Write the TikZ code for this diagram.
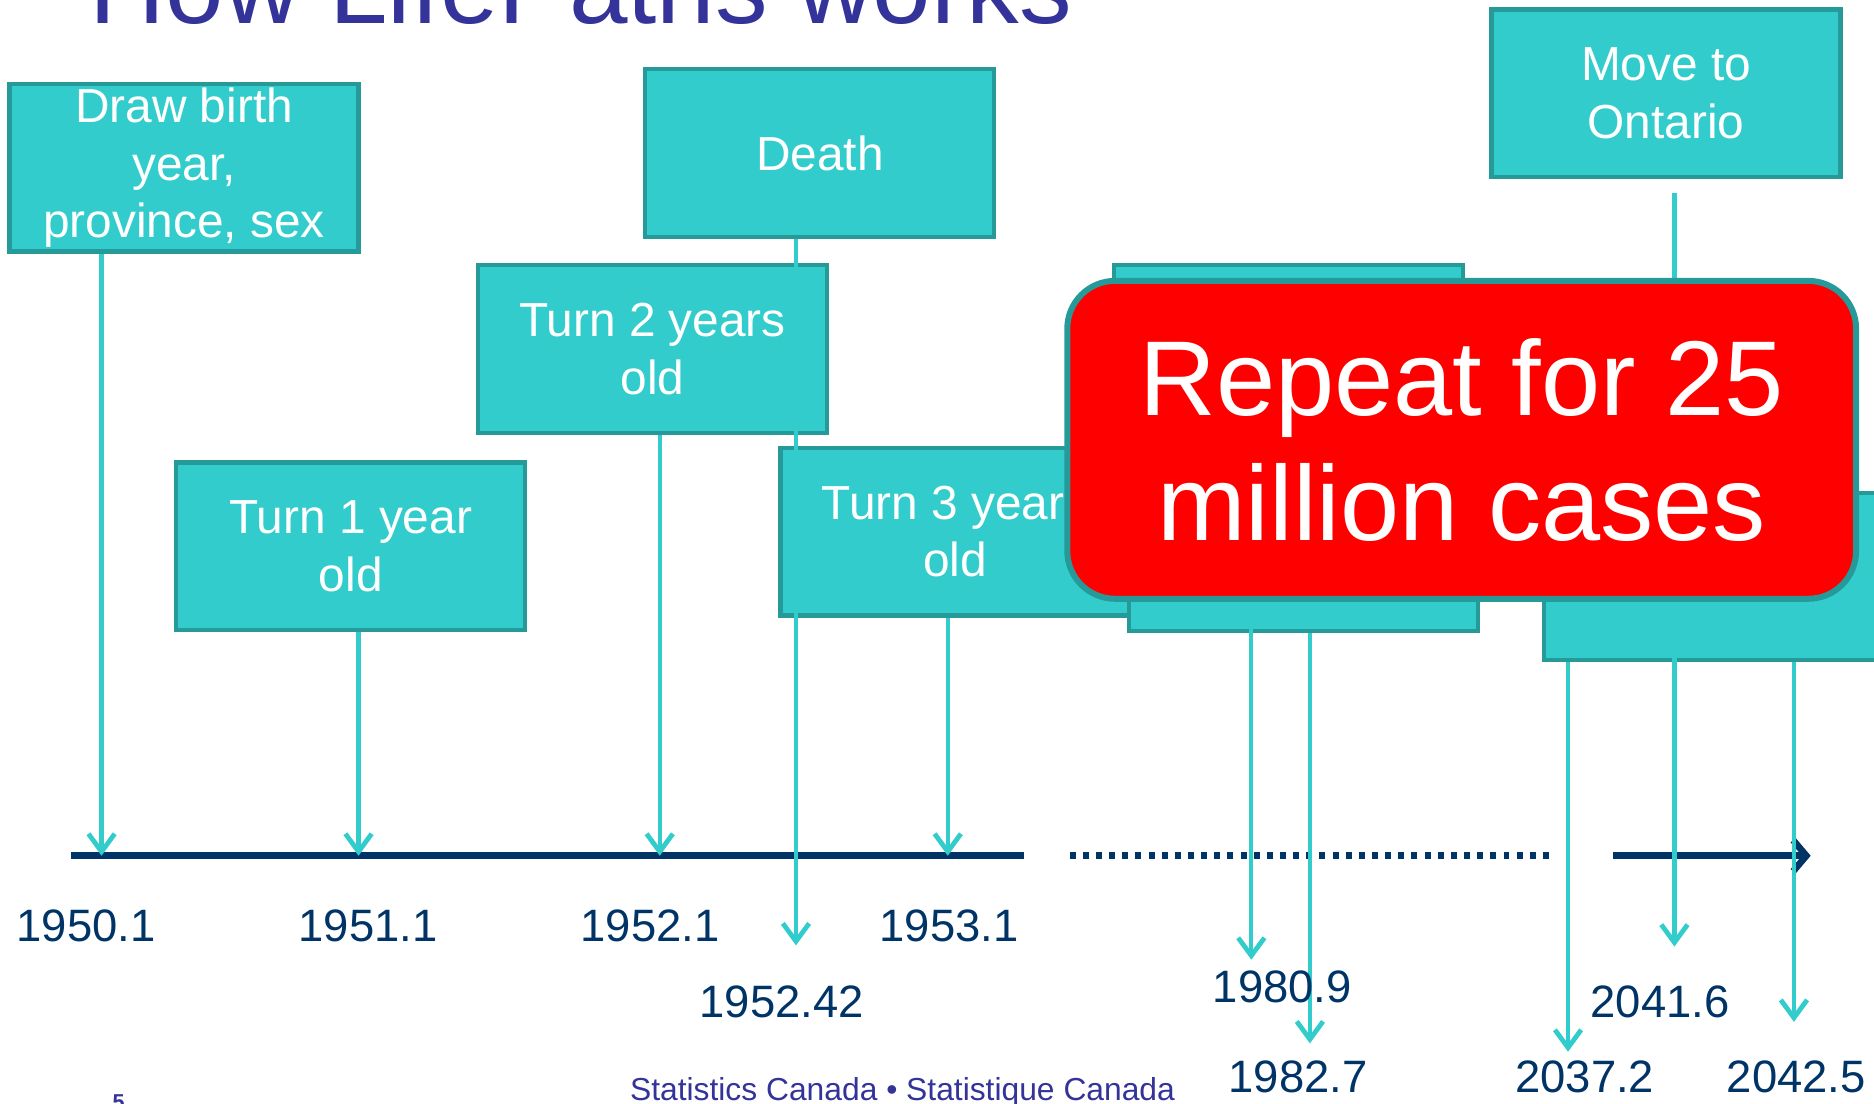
\documentclass[tikz,border=0pt]{standalone}
\usepackage{fontspec}
\setmainfont{Liberation Sans}
\usetikzlibrary{arrows.meta}
\definecolor{turq}{HTML}{33CCCC}
\definecolor{rim}{HTML}{269999}
\definecolor{navy}{HTML}{003366}
\definecolor{indigo}{HTML}{333399}

\begin{document}
\begin{tikzpicture}[x=1pt,y=-1pt,
	event/.style={rectangle, draw=rim, fill=turq, line width=3.5pt, minimum width=292pt, minimum height=140pt, inner sep=0pt, text=white, align=center, font=\fontsize{40}{48}\selectfont},
	hop/.style={color=turq, line width=3.6pt, -{Straight Barb[length=15pt,width=22pt,line width=4pt]}},
	timeline/.style={navy, line width=5.6pt},
	year/.style={text=navy, inner sep=0pt, font=\fontsize{38}{46}\selectfont}]
		\useasboundingbox (0,0) rectangle (1568,923);

		\draw (75,20) node [anchor=base west, inner sep=0pt, text=indigo, font=\fontsize{88}{100}\selectfont] (title) {How LifePaths works};

		\draw (154,140.5) node [event] (birth) {Draw birth\\year,\\province, sex};
		\draw (686,128) node [event] (death) {Death};
		\draw (546,292) node [event] (turn2) {Turn 2 years\\old};
		\draw (293.5,457) node [event] (turn1) {Turn 1 year\\old};
		\draw (799,445) node [event] (turn3) {Turn 3 years\\old};
		\draw (1078,292) node [event] (hid1) {};
		\draw (1090.5,458) node [event] (hid2) {};
		\draw (1438,482.5) node [event] (hid3) {};
		\draw (1394,78) node [event] (move) {Move to\\Ontario};

		\coordinate (l0) at (59,716);
		\coordinate (l1) at (857,716);
		\coordinate (l2) at (895,716);
		\coordinate (l3) at (1298,716);
		\coordinate (l4) at (1350,716);
		\coordinate (l5) at (1515,716);
		\draw [timeline] (l0) -- (l1);
		\draw [timeline, dash pattern=on 5pt off 6pt] (l2) -- (l3);
		\draw [timeline, -{Straight Barb[length=11pt,width=26pt]}] (l4) -- (l5);

		\coordinate (t0) at (85,716);
		\coordinate (t1) at (300,716);
		\coordinate (t2) at (552,716);
		\coordinate (t3) at (666,791);
		\coordinate (t4) at (793,716);
		\coordinate (t5) at (1047,803);
		\coordinate (t6) at (1096,873);
		\coordinate (t7) at (1312,880);
		\coordinate (t8) at (1401,792);
		\coordinate (t9) at (1501,855);
		\path (move.south -| t8) ++(0,12) coordinate (m8);

		\path [hop]
			(birth.south -| t0) edge (t0)
			(turn1.south -| t1) edge (t1)
			(turn2.south -| t2) edge (t2)
			(death.south -| t3) edge (t3)
			(turn3.south -| t4) edge (t4)
			(hid1.south -| t5) edge (t5)
			(hid2.south -| t6) edge (t6)
			(hid3.south -| t7) edge (t7)
			(m8) edge (t8)
			(hid3.south -| t9) edge (t9)
		;

		\draw (72,775) node [year] (y0) {1950.1};
		\draw (308,775) node [year] (y1) {1951.1};
		\draw (544,775) node [year] (y2) {1952.1};
		\draw (794,775) node [year] (y3) {1953.1};
		\draw (654,838) node [year] (y4) {1952.42};
		\draw (1073,826) node [year] (y5) {1980.9};
		\draw (1086,901) node [year] (y6) {1982.7};
		\draw (1389,838) node [year] (y7) {2041.6};
		\draw (1326,901) node [year] (y8) {2037.2};
		\draw (1503,901) node [year] (y9) {2042.5};

		\draw (1223,368) node [rectangle, rounded corners=40pt, draw=rim, fill=red, line width=5pt, minimum width=660pt, minimum height=266pt, text=white, align=center, font=\fontsize{89}{105}\selectfont] (rep) {Repeat for 25\\million cases};

		\draw (527,921) node [anchor=base west, inner sep=0pt, text=indigo, font=\fontsize{26.6}{30}\selectfont] (foot) {Statistics Canada • Statistique Canada};
		\draw (94,928) node [anchor=base west, inner sep=0pt, text=indigo, font=\bfseries\fontsize{18}{20}\selectfont] (page) {5};
	\end{tikzpicture}
\end{document}
